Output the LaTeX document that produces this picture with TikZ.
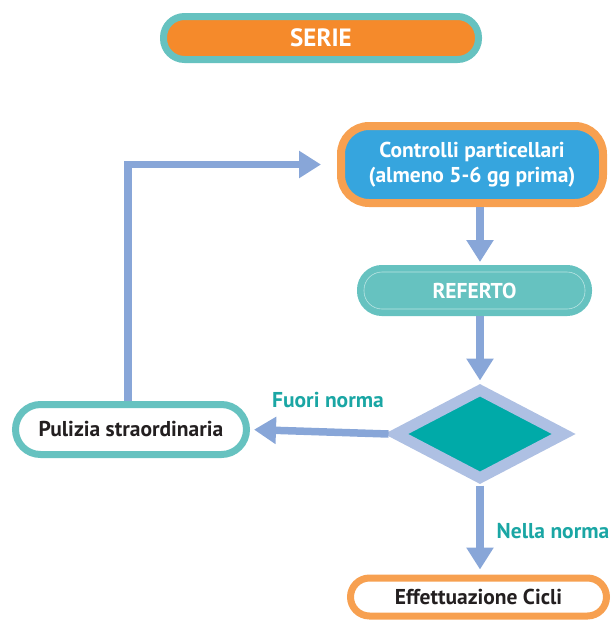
\documentclass[tikz,border=0pt]{standalone}
\usepackage{fontspec}
\setmainfont{PT Sans}
\usetikzlibrary{arrows.meta,shapes.geometric}
\definecolor{serieorange}{HTML}{F58A2B}
\definecolor{boxorange}{HTML}{F7A050}
\definecolor{boxteal}{HTML}{66C2C0}
\definecolor{ctrlblue}{HTML}{36A5DE}
\definecolor{diamteal}{HTML}{00AAA8}
\definecolor{diamrim}{HTML}{AEC0E3}
\definecolor{flowblue}{HTML}{88A6D8}
\definecolor{labelteal}{HTML}{1AA6A4}
\definecolor{darktext}{HTML}{231F20}

\tikzset{
  pill/.style={rectangle,rounded corners=#1,inner sep=0pt,align=center,font=\fontsize{21.5}{25}\selectfont\bfseries},
  flow/.style={draw=flowblue,line width=7.5pt,-{Triangle[length=22pt,width=26pt]}},
  outcome/.style={text=labelteal,font=\fontsize{21.5}{24}\selectfont\bfseries}
}

\begin{document}
\begin{tikzpicture}[x=1pt,y=-1pt]
			\useasboundingbox (0,0) rectangle (611,622);
			\node[pill=21pt,draw=boxteal,line width=7pt,fill=serieorange,text=white,minimum width=315pt,minimum height=43pt,font=\fontsize{25}{28}\selectfont\bfseries] (serie) at (321,38) {SERIE};
			\node[pill=28pt,draw=boxorange,line width=8pt,fill=ctrlblue,text=white,minimum width=262pt,minimum height=77pt] (controlli) at (472,164.5) {Controlli particellari\\(almeno 5-6 gg prima)};
			\node[pill=18pt,preaction={draw=boxteal,line width=14pt},draw=white!55!boxteal,line width=0.6pt,fill=boxteal,text=white,minimum width=221pt,minimum height=37pt,outer sep=7pt] (referto) at (474.5,290.5) {REFERTO};
			\node[diamond,draw=diamrim,line width=11pt,fill=diamteal,inner sep=0pt,minimum width=172pt,minimum height=92pt] (decision) at (480,434) {};
			\node[pill=25pt,draw=boxteal,line width=7pt,fill=white,text=darktext,minimum width=231pt,minimum height=50pt] (pulizia) at (131,429.5) {Pulizia straordinaria};
			\node[pill=19pt,draw=boxorange,line width=7pt,fill=white,text=darktext,minimum width=256pt,minimum height=38pt] (cicli) at (478.5,597) {Effettuazione Cicli};
			\node[outcome] (fuori) at (328,400) {Fuori norma};
			\node[outcome] (nella) at (553,531) {Nella norma};
			\draw[flow,shorten >=3pt] (controlli.south -| decision) -- (referto.north -| decision);
			\draw[flow,shorten >=2pt] (referto.south -| decision) -- (decision.north);
			\draw[flow,shorten >=4pt] (decision.west) -- (pulizia.east);
			\draw[flow,shorten >=16pt] ([xshift=-3pt]pulizia.north) |- (controlli.west);
			\draw[flow,shorten >=5pt] (decision.south) -- (cicli.north -| decision);
		\end{tikzpicture}
\end{document}
